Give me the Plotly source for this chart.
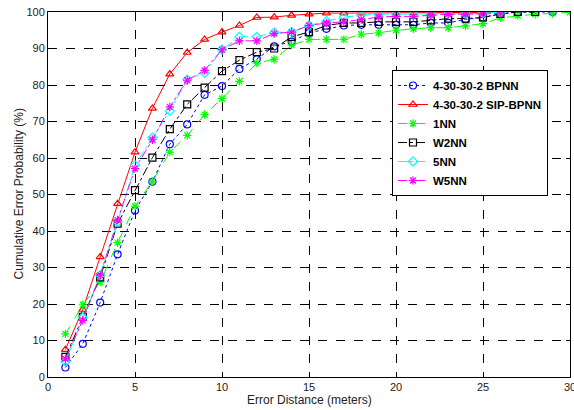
import plotly.graph_objects as go

# Error distance (meters)
x_bpnn = list(range(1, 30))
bpnn = [2.6, 9.1, 20.4, 33.6, 45.6, 53.5, 63.8, 69.2, 77.3, 79.7, 84.4, 87.1, 90.6, 91.9,
        94.3, 95.4, 96.3, 96.5, 96.5, 96.5, 96.5, 97.0, 97.0, 98.0, 98.5, 99.5, 100, 100, 100]

x_sip = list(range(1, 27))
sip = [7.5, 18.5, 32.9, 47.5, 61.6, 73.6, 83.0, 88.9, 92.5, 94.5, 96.3, 98.5, 98.6, 99.1,
       99.4, 99.7, 99.7, 99.7, 99.7, 99.7, 99.8, 99.8, 99.8, 99.9, 99.9, 100]

x_1nn = list(range(1, 31))
nn1 = [11.8, 19.8, 26.0, 36.8, 46.8, 53.6, 61.6, 66.2, 71.9, 76.3, 81.0, 86.0, 87.0, 90.9,
       92.5, 92.5, 92.5, 93.9, 94.3, 95.0, 95.4, 95.7, 95.7, 96.2, 96.8, 98.4, 99.0, 99.4,
       99.6, 99.9]

x_w2nn = list(range(1, 29))
w2nn = [5.5, 16.5, 27.3, 42.0, 51.2, 60.1, 67.9, 74.7, 79.3, 83.8, 86.8, 89.0, 90.0, 93.2,
        94.5, 96.3, 97.0, 97.0, 97.3, 97.3, 97.3, 97.7, 98.2, 98.2, 98.5, 99.5, 100, 100]

x_5nn = list(range(1, 27))
nn5 = [4.2, 16.3, 27.9, 42.5, 58.0, 65.6, 72.9, 81.5, 83.3, 89.7, 93.2, 93.2, 94.4, 94.5,
       96.3, 97.5, 98.6, 99.1, 99.4, 99.4, 99.4, 99.5, 99.5, 99.5, 99.6, 100]

x_w5nn = list(range(1, 27))
w5nn = [5.0, 15.5, 27.9, 43.0, 57.1, 65.0, 74.0, 81.3, 84.0, 89.7, 92.1, 92.1, 94.1, 94.5,
        96.3, 97.0, 97.3, 98.0, 98.6, 98.8, 98.8, 99.1, 99.4, 99.4, 99.5, 99.6]

names = ["4-30-30-2 BPNN", "4-30-30-2 SIP-BPNN", "1NN", "W2NN", "5NN", "W5NN"]
xs = [x_bpnn, x_sip, x_1nn, x_w2nn, x_5nn, x_w5nn]
ys = [bpnn, sip, nn1, w2nn, nn5, w5nn]
colors = ["#0000ff", "#ff0000", "#00ff00", "#000000", "#00ffff", "#ff00ff"]
dashes = ["dot", "solid", "dash", "dashdot", "dashdot", "dashdot"]
symbols = ["circle-open", "triangle-up-open", "asterisk-open", "square-open",
           "diamond-open", "asterisk-open"]

x_ticks = [0, 5, 10, 15, 20, 25, 30]
y_ticks = list(range(0, 101, 10))

fig = go.Figure()
for n, x, y, c, d, s in zip(names, xs, ys, colors, dashes, symbols):
    fig.add_trace(go.Scatter(
        x=x, y=y, name=n, mode="lines+markers",
        line=dict(color=c, width=1, dash=d),
        marker=dict(symbol=s, size=7, color=c, line=dict(color=c, width=1.2)),
    ))

FONT = "Liberation Sans, Arial"
axis_common = dict(
    showline=True, linecolor="black", linewidth=1, mirror="ticks",
    ticks="inside", ticklen=4, tickcolor="black",
    showgrid=True, gridcolor="black", griddash="dash", gridwidth=1,
    zeroline=False, automargin=False, ticklabeloverflow="allow",
    tickfont=dict(family=FONT, size=11, color="#222"),
)

fig.update_xaxes(range=[0, 30], tickvals=x_ticks, **axis_common)
fig.update_yaxes(range=[0, 100], tickvals=y_ticks, **axis_common)

fig.add_annotation(text="Error Distance (meters)", xref="paper", yref="paper",
                   x=0.5, y=-(400 - 377) / 365, xanchor="center", yanchor="middle",
                   showarrow=False, font=dict(family=FONT, size=12, color="#222"))
fig.add_annotation(text="Cumulative Error Probability (%)", xref="paper", yref="paper",
                   x=(18 - 48) / 522, y=0.5, xanchor="center", yanchor="middle",
                   textangle=-90, showarrow=False,
                   font=dict(family=FONT, size=12, color="#222"))

fig.update_layout(
    width=574, height=410,
    margin=dict(l=48, r=4, t=12, b=33),
    paper_bgcolor="white", plot_bgcolor="white",
    showlegend=True,
    legend=dict(
        x=(392 - 48) / 522, y=(377 - 70) / 365, xanchor="left", yanchor="top",
        bordercolor="black", borderwidth=1, bgcolor="white",
        font=dict(family=FONT, size=11.5, color="black", weight="bold"),
        tracegroupgap=0, itemwidth=30,
    ),
)

fig.write_html("out.html", config={"displayModeBar": False},
               post_script="document.body.style.margin='0px';")
